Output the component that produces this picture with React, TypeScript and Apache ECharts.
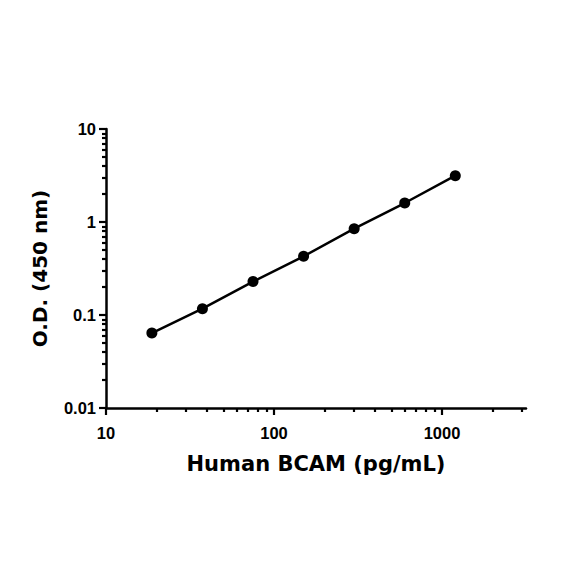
import * as echarts from "echarts";
import { useEffect, useRef } from "react";

const concentration = [18.75, 37.5, 75, 150, 300, 600, 1200];
const opticalDensity = [0.064, 0.117, 0.229, 0.428, 0.847, 1.6, 3.15];

const xMajorTicks = [10, 100, 1000];
const xMinorTicks = [20, 30, 40, 50, 60, 70, 80, 90, 200, 300, 400, 500, 600, 700, 800, 900, 2000, 3000];
const yMajorTicks = [0.01, 0.1, 1, 10];
const yMinorTicks = [
  0.02, 0.03, 0.04, 0.05, 0.06, 0.07, 0.08, 0.09,
  0.2, 0.3, 0.4, 0.5, 0.6, 0.7, 0.8, 0.9,
  2, 3, 4, 5, 6, 7, 8, 9,
];

const xMin = 10;
const xMax = 3162.2777;
const yMin = 0.01;
const yMax = 10;

const ink = "#000000";
const tickFont = "Liberation Sans, Arial, sans-serif";
const titleFont = "DejaVu Sans, sans-serif";

const formatTick = (value: number) => String(+value.toPrecision(6));

export default function App() {
  const ref = useRef<HTMLDivElement | null>(null);

  useEffect(() => {
    if (!ref.current) return;
    const chart = echarts.init(ref.current, undefined, { renderer: "svg" });
    const axisLine = { show: true, lineStyle: { color: ink, width: 2.5 } };
    const tickLabel = {
      color: ink,
      fontFamily: tickFont,
      fontWeight: "bold",
      fontSize: 16.5,
      formatter: formatTick,
    };
    chart.setOption({
      animation: false,
      backgroundColor: "#ffffff",
      grid: { left: 106, right: 58, top: 129, bottom: 176, containLabel: false },
      xAxis: [
        {
          type: "log",
          logBase: 10,
          min: xMin,
          max: xMax,
          position: "bottom",
          name: "Human BCAM (pg/mL)",
          nameLocation: "middle",
          nameGap: 45,
          nameTextStyle: { color: ink, fontFamily: titleFont, fontWeight: "bold", fontSize: 21 },
          axisLine,
          axisTick: { show: true, length: 7, customValues: xMajorTicks, lineStyle: { color: ink, width: 2.2 } },
          axisLabel: { ...tickLabel, customValues: xMajorTicks, margin: 16 },
          splitLine: { show: false },
          minorTick: { show: false },
        },
        {
          type: "log",
          logBase: 10,
          min: xMin,
          max: xMax,
          position: "bottom",
          offset: 0,
          axisLine: { show: false },
          axisTick: { show: true, length: 4, customValues: xMinorTicks, lineStyle: { color: ink, width: 2.2 } },
          axisLabel: { show: false },
          splitLine: { show: false },
        },
      ],
      yAxis: [
        {
          type: "log",
          logBase: 10,
          min: yMin,
          max: yMax,
          position: "left",
          name: "O.D. (450 nm)",
          nameLocation: "middle",
          nameGap: 56,
          nameTextStyle: { color: ink, fontFamily: titleFont, fontWeight: "bold", fontSize: 20 },
          axisLine,
          axisTick: { show: true, length: 7, customValues: yMajorTicks, lineStyle: { color: ink, width: 2.2 } },
          axisLabel: { ...tickLabel, customValues: yMajorTicks, margin: 10 },
          splitLine: { show: false },
          minorTick: { show: false },
        },
        {
          type: "log",
          logBase: 10,
          min: yMin,
          max: yMax,
          position: "left",
          offset: 0,
          axisLine: { show: false },
          axisTick: { show: true, length: 4, customValues: yMinorTicks, lineStyle: { color: ink, width: 2.2 } },
          axisLabel: { show: false },
          splitLine: { show: false },
        },
      ],
      series: [
        {
          type: "line",
          xAxisIndex: 0,
          yAxisIndex: 0,
          data: concentration.map((x, i) => [x, opticalDensity[i]]),
          symbol: "circle",
          symbolSize: 11,
          itemStyle: { color: ink },
          lineStyle: { color: ink, width: 2.5 },
          clip: false,
        },
      ],
    });
    return () => chart.dispose();
  }, []);

  return <div ref={ref} style={{ position: "fixed", left: 0, top: 0, width: 584, height: 584 }} />;
}
